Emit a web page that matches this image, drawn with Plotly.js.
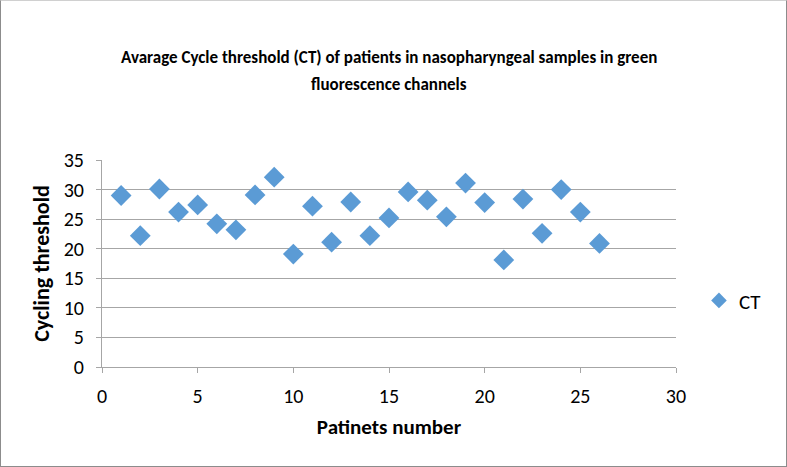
<!DOCTYPE html>
<html>
<head>
<meta charset="utf-8">
<script src="https://cdn.plot.ly/plotly-3.0.1.min.js"></script>
<style>
html,body{margin:0;padding:0;background:#fff;}
#wrap{width:787px;height:467px;box-sizing:border-box;border:1.5px solid #8c8c8c;border-top:1px solid #d0d0d0;position:relative;}
#chart{width:784px;height:464px;}
</style>
</head>
<body>
<div id="wrap"><div id="chart"></div></div>
<script>
const patients = [1,2,3,4,5,6,7,8,9,10,11,12,13,14,15,16,17,18,19,20,21,22,23,24,25,26];
const ctValues = [29.0,22.2,30.1,26.2,27.4,24.2,23.2,29.1,32.1,19.1,27.2,21.1,27.9,22.2,25.2,29.6,28.2,25.4,31.1,27.8,18.1,28.4,22.6,30.0,26.2,20.9];
const seriesName = 'CT';
const titleLine1 = 'Avarage Cycle threshold (CT) of patients in nasopharyngeal samples in green';
const titleLine2 = 'fluorescence channels';
const xTitle = 'Patinets number';
const yTitle = 'Cycling threshold';

const FONT = "Carlito, 'Liberation Sans Narrow', 'Open Sans', sans-serif";

const trace = {
  x: patients, y: ctValues, name: seriesName,
  type: 'scatter', mode: 'markers',
  marker: {symbol: 'diamond', size: 16, color: '#5B9BD5', line: {width: 0}}
};

const layout = {
  width: 784, height: 464,
  margin: {l: 101, r: 109, t: 159, b: 98},
  paper_bgcolor: '#fff', plot_bgcolor: '#fff',
  font: {family: FONT, color: '#000'},
  showlegend: true,
  legend: {x: 1.04, xanchor: 'left', y: 0.32, yanchor: 'middle', font: {size: 21, family: FONT}, itemsizing: 'constant', itemwidth: 30, bgcolor: 'rgba(0,0,0,0)'},
  xaxis: {
    range: [0, 30], dtick: 5, tick0: 0, showgrid: false, zeroline: false,
    showline: true, linecolor: '#a6a6a6', linewidth: 1,
    ticks: 'outside', ticklen: 5, tickcolor: '#a6a6a6', ticklabelstandoff: 6,
    tickfont: {size: 20, family: FONT},
    title: {text: '<b>' + xTitle + '</b>', font: {size: 21, family: FONT}, standoff: 12}
  },
  yaxis: {
    range: [0, 35], dtick: 5, tick0: 0, showgrid: true, gridcolor: '#a6a6a6', gridwidth: 1, zeroline: false,
    showline: true, linecolor: '#a6a6a6', linewidth: 1,
    ticks: 'outside', ticklen: 5, tickcolor: '#a6a6a6', ticklabelstandoff: 8,
    tickfont: {size: 20, family: FONT},
    title: {text: '<b>' + yTitle + '</b>', font: {size: 22, family: FONT}, standoff: 8}
  },
  annotations: [
    {text: '<b>' + titleLine1 + '</b>', xref: 'paper', yref: 'paper', x: 0.5, y: 1.0, yshift: 103, xanchor: 'center', yanchor: 'middle', showarrow: false, font: {size: 17, family: FONT}},
    {text: '<b>' + titleLine2 + '</b>', xref: 'paper', yref: 'paper', x: 0.5, y: 1.0, yshift: 76, xanchor: 'center', yanchor: 'middle', showarrow: false, font: {size: 17, family: FONT}}
  ]
};

Plotly.newPlot('chart', [trace], layout, {displayModeBar: false, staticPlot: true});
</script>
</body>
</html>
